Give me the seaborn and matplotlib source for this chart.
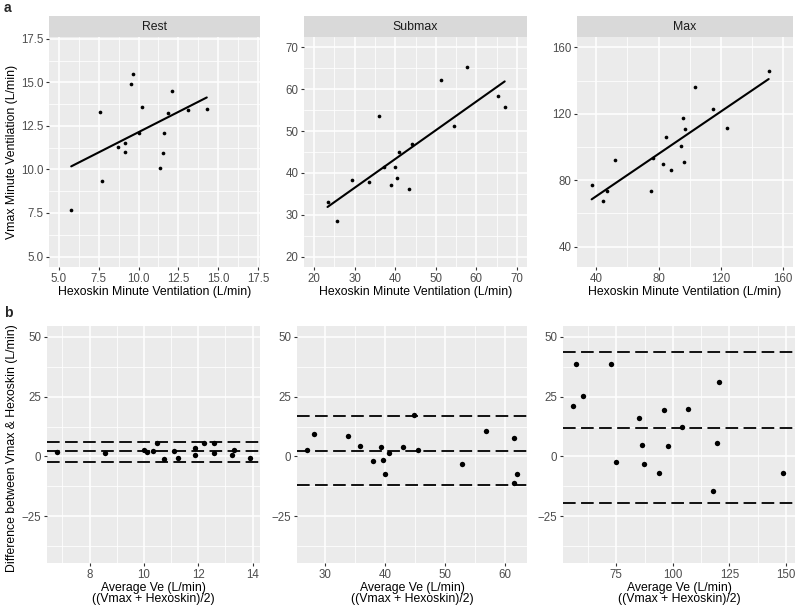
import matplotlib
matplotlib.use("Agg")
import matplotlib.pyplot as plt
import seaborn as sns
import numpy as np
import pandas as pd

# ---------------- data ----------------
panels = ["Rest", "Submax", "Max"]

rest_hexo = [5.79, 7.61, 7.72, 8.69, 9.13, 9.17, 9.54, 9.65, 10.02, 10.19, 11.33, 11.54, 11.60, 11.85, 12.07, 13.09, 14.27]
rest_vmax = [7.69, 13.32, 9.33, 11.26, 11.51, 11.01, 14.90, 15.46, 12.10, 13.57, 10.10, 10.92, 12.08, 13.24, 14.50, 13.42, 13.47]

sub_hexo = [23.3, 25.6, 29.4, 33.6, 36.1, 37.3, 39.0, 39.9, 40.5, 41.0, 43.5, 44.1, 51.4, 54.4, 57.6, 65.4, 67.0]
sub_vmax = [33.0, 28.4, 38.2, 37.9, 53.6, 41.3, 37.0, 41.4, 38.9, 45.0, 36.2, 46.8, 62.2, 51.1, 65.3, 58.3, 55.7]

max_hexo = [37.1, 44.6, 46.7, 52.4, 74.9, 76.2, 82.9, 85.1, 88.0, 94.7, 95.4, 96.2, 96.8, 103.6, 115.0, 123.8, 150.7]
max_vmax = [76.9, 67.2, 73.5, 92.4, 73.7, 93.6, 89.6, 106.3, 86.4, 100.7, 117.2, 90.8, 111.0, 136.4, 122.9, 111.4, 145.9]

rest_avg = [6.79, 8.56, 10.01, 10.12, 10.34, 10.49, 10.74, 11.09, 11.26, 11.87, 11.87, 12.21, 12.56, 12.57, 13.25, 13.31, 13.90]
rest_diff = [1.94, 1.53, 2.64, 1.67, 2.36, 5.69, -1.25, 2.08, -0.69, 3.33, 0.42, 5.42, 5.83, 1.39, 0.56, 2.50, -0.83]

sub_avg = [26.99, 28.10, 33.74, 35.74, 38.03, 39.26, 39.70, 39.93, 40.65, 42.99, 44.89, 45.50, 52.92, 56.88, 61.57, 61.51, 62.01]
sub_diff = [2.78, 9.44, 8.61, 4.17, -2.08, 3.89, -1.53, -7.22, 1.53, 4.03, 17.5, 2.64, -3.33, 10.83, 7.64, -11.25, -7.22]

max_avg = [55.95, 57.3, 60.4, 72.5, 74.7, 85.0, 86.5, 87.4, 94.0, 96.0, 98.0, 104.2, 106.6, 119.3, 120.3, 117.8, 148.8]
max_diff = [21.1, 38.5, 25.1, 38.5, -2.5, 16.0, 4.6, -3.2, -6.9, 19.3, 4.2, 12.2, 19.9, 5.8, 31.0, -14.6, -6.9]

# bias and limits of agreement (upper, mean, lower) per panel
ba_lines = {
    "Rest": [6.1, 2.1, -2.2],
    "Submax": [16.8, 2.36, -12.1],
    "Max": [43.5, 12.1, -19.4],
}

top_lims = {"Rest": (4.4, 17.6), "Submax": (17.5, 72.5), "Max": (27.7, 166.3)}
top_major = {"Rest": [5.0, 7.5, 10.0, 12.5, 15.0, 17.5], "Submax": [20, 30, 40, 50, 60, 70], "Max": [40, 80, 120, 160]}
top_major_lbl = {"Rest": ["5.0", "7.5", "10.0", "12.5", "15.0", "17.5"],
                 "Submax": ["20", "30", "40", "50", "60", "70"],
                 "Max": ["40", "80", "120", "160"]}

bot_xlims = {"Rest": (6.43, 14.27), "Submax": (25.26, 63.7), "Max": (51.4, 154.0)}
bot_xmajor = {"Rest": [8, 10, 12, 14], "Submax": [30, 40, 50, 60], "Max": [75, 100, 125, 150]}
bot_ylim = (-44.5, 54.5)
bot_ymajor = [-25, 0, 25, 50]
bot_ylbl = ["\u221225", "0", "25", "50"]

top_data = {
    "Rest": pd.DataFrame({"hexo": rest_hexo, "vmax": rest_vmax}),
    "Submax": pd.DataFrame({"hexo": sub_hexo, "vmax": sub_vmax}),
    "Max": pd.DataFrame({"hexo": max_hexo, "vmax": max_vmax}),
}
bot_data = {
    "Rest": pd.DataFrame({"avg": rest_avg, "diff": rest_diff}),
    "Submax": pd.DataFrame({"avg": sub_avg, "diff": sub_diff}),
    "Max": pd.DataFrame({"avg": max_avg, "diff": max_diff}),
}

# ---------------- style ----------------
sns.set_theme(style="darkgrid")
plt.rcParams["font.family"] = ["Liberation Sans", "DejaVu Sans"]
plt.rcParams["axes.facecolor"] = "#EBEBEB"
plt.rcParams["grid.color"] = "white"

TICK_FS = 8.3
TITLE_FS = 8.8

W, H = 800, 609
fig = plt.figure(figsize=(W / 100, H / 100), dpi=100)


def px_axes(l, t, r, b):
    return fig.add_axes([l / W, 1 - b / H, (r - l) / W, (b - t) / H])


def minors(major, lo, hi):
    step = major[1] - major[0]
    vals = [m - step / 2 for m in major] + [major[-1] + step / 2]
    return [v for v in vals if lo <= v <= hi]


def style_ax(ax, xmajor, xlbl, xlim, ymajor, ylbl, ylim):
    ax.set_facecolor("#EBEBEB")
    ax.set_xlim(*xlim)
    ax.set_ylim(*ylim)
    ax.grid(False)
    for v in minors(xmajor, *xlim):
        ax.axvline(v, color="white", lw=0.55, zorder=0)
    for v in minors(ymajor, *ylim):
        ax.axhline(v, color="white", lw=0.55, zorder=0)
    for v in xmajor:
        ax.axvline(v, color="white", lw=1.1, zorder=0)
    for v in ymajor:
        ax.axhline(v, color="white", lw=1.1, zorder=0)
    ax.set_xticks(xmajor)
    ax.set_xticklabels(xlbl)
    ax.set_yticks(ymajor)
    ax.set_yticklabels(ylbl)
    ax.tick_params(axis="both", which="major", length=2.5, width=0.8, color="#333333",
                   labelsize=TICK_FS, labelcolor="#4D4D4D", pad=1.5, left=True, bottom=True)
    for s in ax.spines.values():
        s.set_visible(False)


top_boxes = {"Rest": (49, 37, 260, 267), "Submax": (304, 37, 527, 267), "Max": (577, 37, 793, 267)}
strip_top = 16
bot_boxes = {"Rest": (47, 326, 260, 563), "Submax": (297, 326, 527, 563), "Max": (563, 326, 795, 563)}

for p in panels:
    l, t, r, b = top_boxes[p]
    ax = px_axes(l, t, r, b)
    d = top_data[p]
    sns.scatterplot(data=d, x="hexo", y="vmax", ax=ax, color="black", s=7, linewidth=0, zorder=3)
    sns.regplot(data=d, x="hexo", y="vmax", ax=ax, scatter=False, ci=None,
                line_kws={"color": "black", "lw": 1.5, "zorder": 4})
    lbl = top_major_lbl[p]
    style_ax(ax, top_major[p], lbl, top_lims[p], top_major[p], lbl, top_lims[p])
    ax.set_xlabel("Hexoskin Minute Ventilation (L/min)", fontsize=TITLE_FS, color="black", labelpad=1)
    ax.set_ylabel("")
    # strip
    sax = px_axes(l, strip_top, r, t)
    sax.set_facecolor("#D9D9D9")
    sax.set_xticks([]); sax.set_yticks([])
    sax.grid(False)
    for s in sax.spines.values():
        s.set_visible(False)
    sax.text(0.5, 0.5, p, ha="center", va="center", fontsize=TITLE_FS, color="#1A1A1A",
             transform=sax.transAxes)

    bl, bt, br, bb = bot_boxes[p]
    bx = px_axes(bl, bt, br, bb)
    d2 = bot_data[p]
    for v in ba_lines[p]:
        bx.axhline(v, color="black", lw=1.3, ls=(0, (7, 3)), zorder=2)
    sns.scatterplot(data=d2, x="avg", y="diff", ax=bx, color="black", s=15, linewidth=0, zorder=3)
    style_ax(bx, bot_xmajor[p], [str(v) for v in bot_xmajor[p]], bot_xlims[p],
             bot_ymajor, bot_ylbl, bot_ylim)
    bx.set_xlabel("Average Ve (L/min)\n((Vmax + Hexoskin)/2)", fontsize=TITLE_FS, color="black",
                  labelpad=1, linespacing=0.95)
    bx.set_ylabel("")

# y-axis titles
fig.text(12 / W, 1 - 152 / H, "Vmax Minute Ventilation (L/min)", rotation=90,
         ha="center", va="center", fontsize=TITLE_FS, color="black")
fig.text(12 / W, 1 - 448 / H, "Difference between Vmax & Hexoskin (L/min)", rotation=90,
         ha="center", va="center", fontsize=TITLE_FS, color="black")

# panel tags
fig.text(4 / W, 1 - 8 / H, "a", ha="left", va="center", fontsize=10, fontweight="bold")
fig.text(4 / W, 1 - 313 / H, "b", ha="left", va="center", fontsize=10, fontweight="bold")

fig.savefig("out.png", dpi=100, facecolor="white")
